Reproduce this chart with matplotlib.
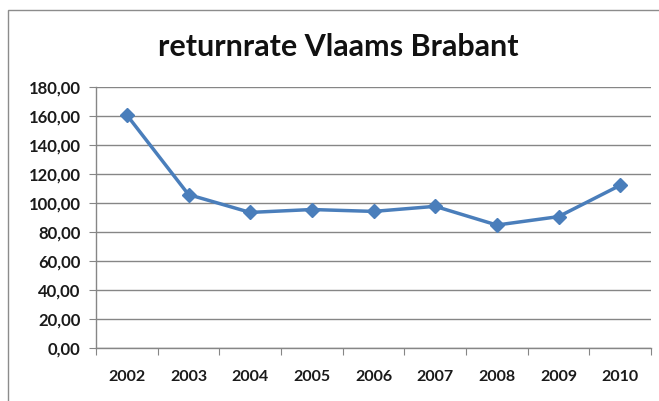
import matplotlib.pyplot as plt
from matplotlib.patches import Rectangle
from matplotlib.ticker import FuncFormatter, FixedLocator
import numpy as np

years = ['2002', '2003', '2004', '2005', '2006', '2007', '2008', '2009', '2010']
returnrate = [160.7, 105.8, 93.5, 95.5, 94.2, 97.7, 84.8, 90.6, 112.2]

fig = plt.figure(figsize=(6.59, 4.01), dpi=100)
ax = fig.add_axes([96 / 659, 1 - 348 / 401, 555 / 659, 261 / 401])

# chart border
fig.patches.append(Rectangle((8 / 659, -0.05), 1.2, 1 - 10 / 401 + 0.05,
                             transform=fig.transFigure, fill=False,
                             edgecolor='#8c8c8c', linewidth=1))

x = np.arange(len(years))
ax.plot(x, returnrate, color='#4a7ebb', linewidth=2.5, marker='D',
        markersize=7.5, markerfacecolor='#4a7ebb', markeredgecolor='#4a7ebb')

ax.set_ylim(0, 180)
ax.set_yticks(np.arange(0, 181, 20))
ax.yaxis.set_major_formatter(FuncFormatter(lambda v, p: f'{v:.2f}'.replace('.', ',')))
ax.grid(axis='y', color='#868686', linewidth=1)
ax.set_axisbelow(True)

ax.set_xlim(-0.5, len(years) - 0.5)
ax.xaxis.set_major_locator(FixedLocator(np.arange(-0.5, len(years), 1.0)))
ax.xaxis.set_minor_locator(FixedLocator(x))
ax.set_xticklabels([])
ax.set_xticklabels(years, minor=True)
ax.tick_params(axis='x', which='major', length=5, color='#868686', direction='out')
ax.tick_params(axis='x', which='minor', length=0, pad=16)
ax.tick_params(axis='y', length=5, color='#868686', pad=6)

for lbl in ax.get_yticklabels():
    lbl.set_fontfamily('Lato')
    lbl.set_fontweight('bold')
    lbl.set_fontsize(12)
    lbl.set_color('#1a1a1a')
for lbl in ax.get_xticklabels(minor=True):
    lbl.set_fontfamily('Lato')
    lbl.set_fontweight('bold')
    lbl.set_fontsize(11.5)
    lbl.set_color('#1a1a1a')

for s in ['top', 'right']:
    ax.spines[s].set_visible(False)
for s in ['left', 'bottom']:
    ax.spines[s].set_color('#868686')
    ax.spines[s].set_linewidth(1)

fig.text(338 / 659, 1 - 47 / 401, 'returnrate Vlaams Brabant', ha='center', va='center',
         fontsize=22, fontweight='bold', family='Lato', color='#111111')

fig.savefig('out.png', dpi=100)
